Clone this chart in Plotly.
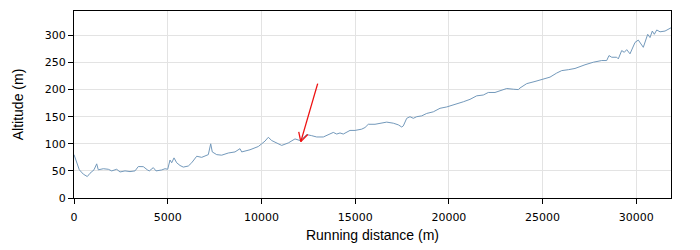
import math
import plotly.graph_objects as go

distance = [0, 144, 283, 496, 710, 854, 998, 1067, 1211, 1296, 1563, 1830, 2011, 2278,
            2454, 2721, 2988, 3255, 3430, 3697, 3911, 4017, 4231, 4375, 4679, 4855,
            4999, 5084, 5122, 5212, 5335, 5479, 5655, 5831, 6098, 6279, 6546, 6813,
            7042, 7165, 7293, 7378, 7613, 7880, 8232, 8589, 8856, 8947, 9390, 9833,
            10014, 10190, 10366, 10548, 10724, 11081, 11433, 11790, 12057, 12415,
            12681, 12948, 13300, 13658, 13834, 14015, 14191, 14367, 14725, 14991,
            15349, 15525, 15701, 16059, 16683, 17035, 17301, 17483, 17568, 17750,
            17926, 18102, 18283, 18550, 18817, 19169, 19526, 19884, 20417, 20769,
            21127, 21484, 21836, 22103, 22460, 22818, 23085, 23437, 23704, 23795,
            24152, 24595, 24952, 25395, 25752, 26019, 26371, 26728, 27262, 27705,
            28153, 28420, 28542, 28687, 28953, 29039, 29220, 29359, 29487, 29663,
            29930, 30106, 30373, 30607, 30730, 30853, 30960, 31088, 31264, 31531,
            31850]
altitude = [80, 65, 52, 44, 39.6, 45.6, 50, 52, 63, 52, 54, 53, 50, 53,
            48, 50, 48.7, 50, 58, 57.8, 52, 50, 56, 50, 51.7, 54,
            53, 65, 70, 65, 74, 65, 60, 57, 59, 65, 77, 75,
            78.5, 80, 100, 85, 80, 79, 83, 85, 91, 85, 89, 95,
            100, 105, 112, 106, 103, 97, 101.6, 109, 106, 117,
            115, 112.6, 112.6, 118, 121, 118, 120, 118, 124.7, 124.7,
            127, 130, 136, 136, 140, 138, 135, 131, 133, 147,
            150, 147, 150, 151.5, 156, 159, 165.5, 168, 173, 177.5,
            182, 188.5, 190, 194.7, 194.7, 199, 202, 200.7, 200, 203,
            211, 215, 218.4, 223, 230.5, 235, 236.7, 239, 245.8, 250.5,
            253.6, 253.6, 262.8, 259.7, 259.7, 256.7, 272, 268.8, 273.7, 266,
            287, 291.4, 278, 302, 296, 308, 302, 310, 306.6, 308,
            314]

x_ticks = [0, 5000, 10000, 15000, 20000, 25000, 30000]
y_ticks = [0, 50, 100, 150, 200, 250, 300]

x_range = [0, 31850]
y_range = [0, 345]

# Arrow annotation: tip and tail in data units
arrow_tip = (12100, 104)
arrow_tail = (13000, 211)

W, H = 700, 250
M = dict(l=74, r=29, t=10, b=51)
px_per_x = (W - M["l"] - M["r"]) / (x_range[1] - x_range[0])
px_per_y = (H - M["t"] - M["b"]) / (y_range[1] - y_range[0])

fig = go.Figure()
fig.add_trace(go.Scatter(
    x=distance, y=altitude, mode="lines",
    line=dict(color="#7399bb", width=1),
    showlegend=False, hoverinfo="skip",
))

# arrow shaft
fig.add_shape(type="line", xref="x", yref="y",
              x0=arrow_tail[0], y0=arrow_tail[1], x1=arrow_tip[0], y1=arrow_tip[1],
              line=dict(color="#ee1111", width=1.3))
# open V arrow head, computed in pixel space
dxp = (arrow_tail[0] - arrow_tip[0]) * px_per_x
dyp = (arrow_tail[1] - arrow_tip[1]) * px_per_y
ang = math.atan2(dyp, dxp)
head_len, head_ang = 10, math.radians(28)
for s in (-1, 1):
    a = ang + s * head_ang
    fig.add_shape(type="line", xref="x", yref="y",
                  x0=arrow_tip[0], y0=arrow_tip[1],
                  x1=arrow_tip[0] + head_len * math.cos(a) / px_per_x,
                  y1=arrow_tip[1] + head_len * math.sin(a) / px_per_y,
                  line=dict(color="#ee1111", width=1.3))

axis_common = dict(
    showline=True, linecolor="black", linewidth=1, mirror=True,
    showgrid=True, gridcolor="#e3e3e3", gridwidth=1,
    ticks="outside", ticklen=5, tickcolor="black", tickwidth=1,
    zeroline=False,
    tickfont=dict(family="DejaVu Sans", size=11, color="black"),
)

fig.update_xaxes(
    range=x_range, tickvals=x_ticks, ticktext=[str(v) for v in x_ticks],
    ticklabelstandoff=4,
    title=dict(text="Running distance (m)", standoff=6,
               font=dict(family="Liberation Sans, Arial", size=14, color="black")),
    **axis_common,
)
fig.update_yaxes(
    range=y_range, tickvals=y_ticks, ticktext=[str(v) for v in y_ticks],
    title=dict(text="Altitude (m)", standoff=17,
               font=dict(family="Liberation Sans, Arial", size=14, color="black")),
    **axis_common,
)

fig.update_layout(
    width=W, height=H,
    margin=M,
    paper_bgcolor="white", plot_bgcolor="white",
)

fig.write_html("out.html")
